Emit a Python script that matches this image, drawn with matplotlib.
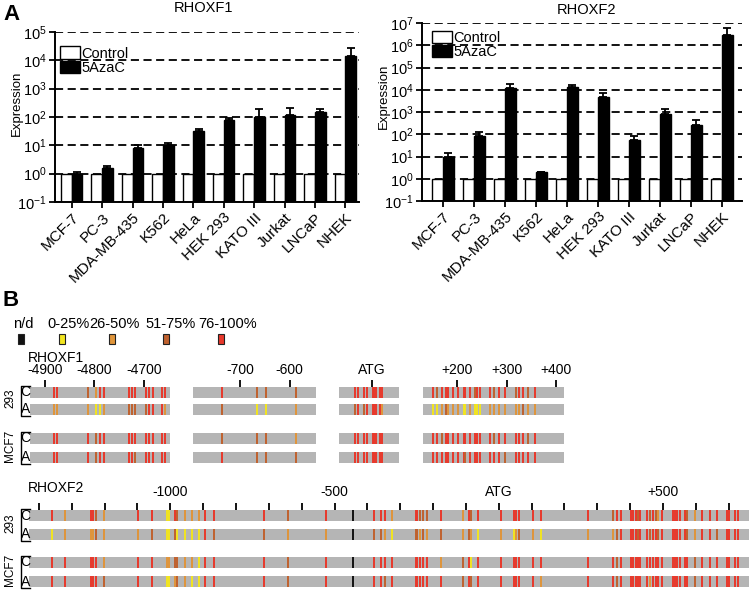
import numpy as np
import matplotlib
matplotlib.use('Agg')
import matplotlib.pyplot as plt
from matplotlib.patches import Patch, Rectangle
from matplotlib.lines import Line2D
from matplotlib.ticker import LogLocator, NullLocator

plt.rcParams['font.family'] = ['Liberation Sans', 'DejaVu Sans']
plt.rcParams['mathtext.fontset'] = 'custom'
plt.rcParams['mathtext.rm'] = 'Liberation Sans'
plt.rcParams['mathtext.it'] = 'Liberation Sans:italic'
plt.rcParams['mathtext.bf'] = 'Liberation Sans:bold'
plt.rcParams['axes.unicode_minus'] = False

W, H = 751, 590

# ---- panel A data ----
cells = ['MCF-7', 'PC-3', 'MDA-MB-435', 'K562', 'HeLa', 'HEK 293',
         'KATO III', 'Jurkat', 'LNCaP', 'NHEK']
control = [1, 1, 1, 1, 1, 1, 1, 1, 1, 1]
f1_aza = [1.0, 1.6, 8.3, 10, 32, 76, 103, 120, 145, 14500]
f1_aza_top = [1.1, 1.9, 10.2, 12, 39, 95, 190, 214, 195, 28000]
f2_aza = [9.7, 82, 12600, 1.95, 13800, 4800, 55, 850, 257, 2.95e6]
f2_aza_top = [14, 120, 17700, 2.05, 16600, 7400, 85, 1300, 457, 5.7e6]

# ---- panel B data ----
meth_labels = ['n/d', '0-25%', '26-50%', '51-75%', '76-100%']
meth_colors = {'0': '#111111', '1': '#f2e51f', '2': '#e0953a',
               '3': '#c0612e', '4': '#e8382b'}

rf1_segments = [(-4930, -4647), (-795, -546), (-67, 54), (131, 416)]
rf1_ticks = [-4900, -4800, -4700, -700, -600, 0, 200, 300, 400]
rf1_ticklabels = ['-4900', '-4800', '-4700', '-700', '-600', 'ATG',
                  '+200', '+300', '+400']
rf1_cpg = [-4881, -4875, -4812, -4797, -4788, -4780, -4729, -4723, -4718,
           -4695, -4689, -4682, -4663, -4657,
           -736, -665, -647, -586,
           -35, -29, -16, -10, 1, 4, 8, 15, 20,
           151, 159, 169, 177, 181, 191, 202, 213, 216, 225, 236, 241, 246,
           266, 275, 285, 296, 319, 325, 333, 343, 358]
rf1_293_C = '44324444444444' + '4333' + '444444444' + '4344444444344434434434'
rf1_293_A = '22211233334442' + '3112' + '343444442' + '1123222112111222222322'
rf1_mcf7_C = '44434444444444' + '3332' + '444444444' + '4434444444444434444434'
rf1_mcf7_A = '44434444344444' + '4333' + '444444444' + '4444444434444444344444'

rf2_range = (-1430, 762)
rf2_ticks = list(range(-1400, 701, 100))
rf2_cpg = [-1359, -1320, -1242, -1234, -1226, -1203, -1097, -1056, -1010, -1003,
           -987, -980, -955, -934, -912, -895, -868, -716, -641, -527,
           -444, -380, -358, -345, -324, -253, -248, -240, -230, -217,
           -175, -109, -91, -85, -63, 6, 46, 52, 62, 105,
           130, 272, 349, 359, 372, 402, 410, 417, 423, 430,
           450, 460, 469, 479, 486, 496, 530, 537, 544, 552,
           567, 574, 598, 618, 643, 664, 694, 702, 720, 727]
rf2_293_C = ('4244324411' '4322244434' '0444244333' '4243444444'
             '4434444434' '4343244444' '4324444444')
rf2_293_A = ('1222322311' '3111143322' '0332133232' '3232121232'
             '1223444434' '4344344444' '4324434444')
rf2_mcf7_C = ('4444424422' '3322144434' '0444444444' '2341444444'
              '4443444444' '4444444444' '4434444444')
rf2_mcf7_A = ('4444434411' '2321144434' '0443444444' '4343444444'
              '2443444444' '4244444444' '4434444444')

GRAY = '#b5b5b5'


def box(l, t, r, b):
    return [l / W, 1 - b / H, (r - l) / W, (b - t) / H]


fig = plt.figure(figsize=(W / 100, H / 100), dpi=100)


def bar_panel(rect, aza, aza_top, ymax, xlim, leg_anchor, ylab_xy):
    ax = fig.add_axes(box(*rect))
    x = np.arange(len(cells))
    w = 0.35
    ymin = 0.1
    ax.set_yscale('log')
    ax.set_axisbelow(True)
    ax.yaxis.grid(True, linestyle=(0, (4.5, 2.5)), color='black', lw=1.3)
    ax.bar(x - w / 2, np.array(control) - ymin, bottom=ymin, width=w,
           facecolor='white', edgecolor='black', lw=1.0, label='Control')
    ax.bar(x + w / 2, np.array(aza) - ymin, bottom=ymin, width=w,
           facecolor='black', edgecolor='black', lw=1.0, label='5AzaC')
    up = np.array(aza_top) - np.array(aza)
    ax.errorbar(x + w / 2, aza, yerr=[np.zeros_like(up), up], fmt='none',
                ecolor='black', elinewidth=1.3, capsize=3, capthick=1.3)
    ax.set_ylim(ymin, ymax)
    ax.set_xlim(*xlim)
    ax.yaxis.set_major_locator(LogLocator(base=10, numticks=20))
    ax.yaxis.set_minor_locator(NullLocator())
    ax.set_xticks(x)
    ax.set_xticklabels(cells, rotation=45, ha='right', rotation_mode='anchor',
                       fontsize=11)
    ax.tick_params(direction='out', length=4, width=1.3, pad=2)
    ax.tick_params(axis='y', labelsize=10.5)
    for s in ['top', 'right']:
        ax.spines[s].set_visible(False)
    for s in ['left', 'bottom']:
        ax.spines[s].set_linewidth(1.4)
    ax.set_ylabel('Expression', fontsize=9.5)
    ax.yaxis.set_label_coords(*ylab_xy)
    handles = [Patch(facecolor='white', edgecolor='black', lw=1.0),
               Patch(facecolor='black', edgecolor='black')]
    ax.legend(handles, ['Control', '5AzaC'], loc='upper left',
              bbox_to_anchor=leg_anchor, frameon=False, fontsize=10.5,
              borderpad=0, borderaxespad=0, handlelength=1.4,
              handleheight=0.9, handletextpad=0.1, labelspacing=0.0)
    return ax


bar_panel((55, 32, 359, 202), f1_aza, f1_aza_top, 1e5, (-0.55, 9.45),
          (0.015, 0.915), (-0.105, 0.58))
bar_panel((422, 23, 742, 201), f2_aza, f2_aza_top, 1e7, (-0.68, 9.65),
          (0.03, 0.955), (-0.10, 0.59))

fig.text(203 / W, 1 - 8 / H, 'RHOXF1', ha='center', va='center', fontsize=10.5)
fig.text(587 / W, 1 - 10 / H, 'RHOXF2', ha='center', va='center', fontsize=10.5)
fig.text(3 / W, 1 - 14 / H, 'A', ha='left', va='center', fontsize=16,
         fontweight='bold')
fig.text(3 / W, 1 - 300 / H, 'B', ha='left', va='center', fontsize=16,
         fontweight='bold')

# ---- panel B legend ----
leg_text_x = [23, 69, 114, 171, 228]
leg_box_x = [21, 62, 112, 166, 221]
for lab, tx, bx, code in zip(meth_labels, leg_text_x, leg_box_x, '01234'):
    fig.text(tx / W, 1 - 324 / H, lab, ha='center', va='center', fontsize=10.5)
    fig.add_artist(Rectangle(((bx - 3) / W, 1 - 344 / H), 6 / W, 10 / H,
                             facecolor=meth_colors[code], edgecolor='#222222',
                             lw=0.8, transform=fig.transFigure))


def track(rect, lo, hi, cpg, rows, row_y, h, ticks, ticklabels, pad):
    ax = fig.add_axes(box(*rect))
    cpg = np.array(cpg)
    keep = (cpg >= lo) & (cpg <= hi)
    for y, code in zip(row_y, rows):
        ax.barh(y, hi - lo, left=lo, height=h, color=GRAY, lw=0)
        cols = [meth_colors[c] for c, k in zip(code, keep) if k]
        ax.vlines(cpg[keep], y - h / 2, y + h / 2, colors=cols, lw=1.4)
    ax.set_xlim(lo, hi)
    ax.set_ylim(row_y[-1] + h / 2, row_y[0] - h / 2)
    tk = [t for t in ticks if lo <= t <= hi]
    tl = [l for t, l in zip(ticks, ticklabels) if lo <= t <= hi]
    ax.set_xticks(tk)
    ax.set_xticklabels(tl)
    ax.set_yticks([])
    ax.tick_params(axis='x', top=True, bottom=False, labeltop=True,
                   labelbottom=False, direction='out', length=5, width=1.3,
                   labelsize=10, pad=pad)
    for s in ax.spines.values():
        s.set_visible(False)
    return ax


def row_labels(y0, row_y, names):
    for i, name in enumerate(names):
        ya = y0 + row_y[2 * i]
        yb = y0 + row_y[2 * i + 1]
        fig.text(25.5 / W, 1 - ya / H, 'C', ha='center', va='center', fontsize=10)
        fig.text(25.5 / W, 1 - yb / H, 'A', ha='center', va='center', fontsize=10)
        fig.text(10 / W, 1 - ((ya + yb) / 2 - 2) / H, name, ha='center',
                 va='center', rotation=90, fontsize=8.5)
        xs = np.array([30, 20.5, 20.5, 30]) / W
        ys = 1 - np.array([ya - 6.5, ya - 6.5, yb + 6.5, yb + 6.5]) / H
        fig.add_artist(Line2D(xs, ys, color='black', lw=1.0,
                              transform=fig.transFigure))


# RHOXF1 tracks
scale = 0.495
rf1_left = [30, 193, 339, 423]
row_y1 = [0, 17, 46, 65]
y1 = 392
rf1_rows = [rf1_293_C, rf1_293_A, rf1_mcf7_C, rf1_mcf7_A]
for (lo, hi), lpx in zip(rf1_segments, rf1_left):
    rect = (lpx, y1 - 5.5, lpx + (hi - lo) * scale, y1 + row_y1[-1] + 5.5)
    track(rect, lo, hi, rf1_cpg, rf1_rows, row_y1, 11, rf1_ticks,
          rf1_ticklabels, 1.5)
fig.text(28 / W, 1 - 358 / H, 'RHOXF1', ha='left', va='center', fontsize=10)
row_labels(y1, row_y1, ['293', 'MCF7'])

# RHOXF2 track
scale2 = 0.3285
row_y2 = [0, 19, 47, 66]
y2 = 515.5
lo2, hi2 = rf2_range
rf2_labels = {-1000: '-1000', -500: '-500', 0: 'ATG', 500: '+500'}
rf2_ticklabels = [rf2_labels.get(t, '') for t in rf2_ticks]
rect2 = (29, y2 - 5.5, 29 + (hi2 - lo2) * scale2, y2 + row_y2[-1] + 5.5)
track(rect2, lo2, hi2, rf2_cpg,
      [rf2_293_C, rf2_293_A, rf2_mcf7_C, rf2_mcf7_A], row_y2, 11,
      rf2_ticks, rf2_ticklabels, 3)
fig.text(28 / W, 1 - 488 / H, 'RHOXF2', ha='left', va='center', fontsize=10)
row_labels(y2, row_y2, ['293', 'MCF7'])

fig.savefig('out.png', dpi=100)
